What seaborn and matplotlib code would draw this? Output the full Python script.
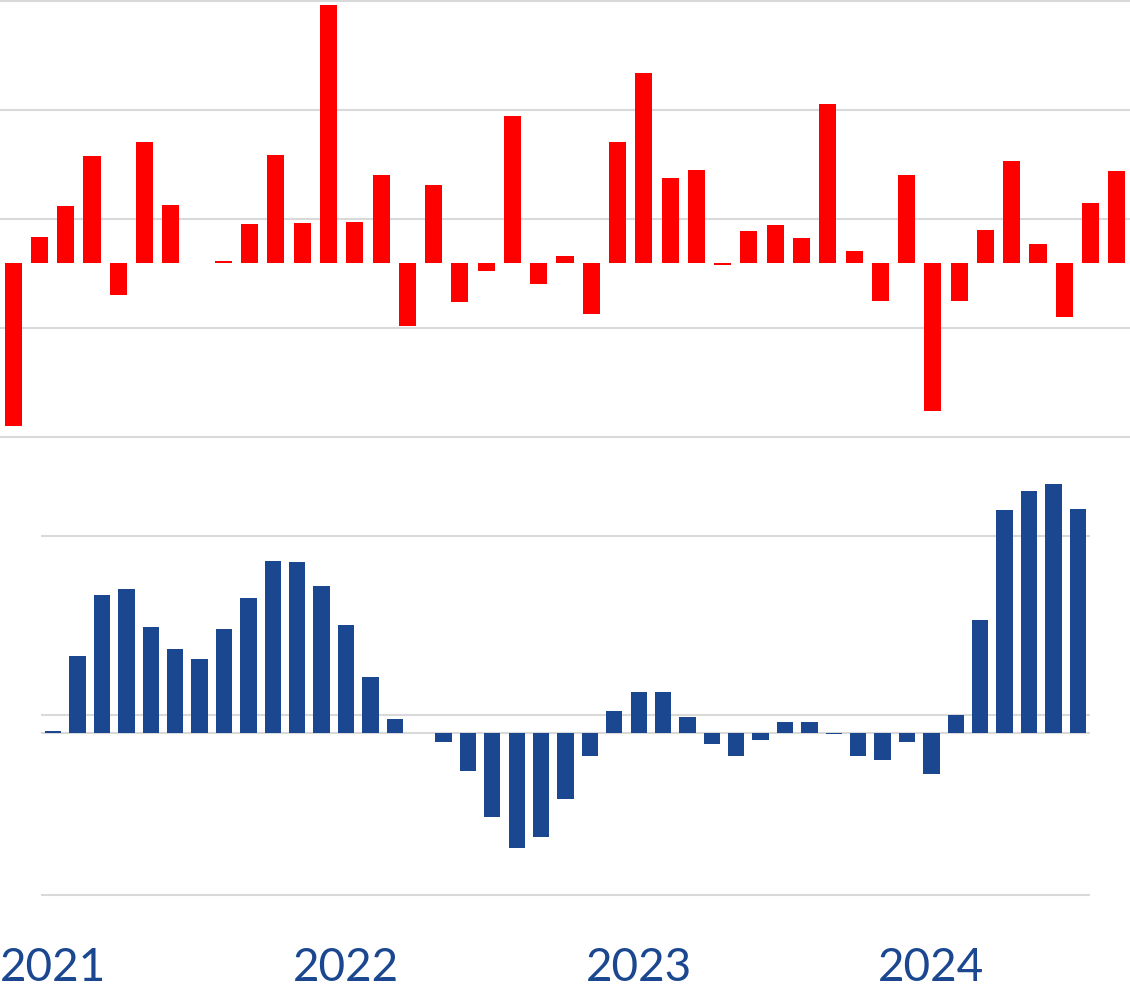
import pandas as pd
import matplotlib
matplotlib.use('Agg')
import matplotlib.pyplot as plt
import matplotlib.transforms as mtransforms
import seaborn as sns

# monthly data, Jan 2021 - Jul 2024
months = pd.date_range('2021-01-01', periods=43, freq='MS').strftime('%Y-%m').tolist()

top_values = [-1.50, 0.24, 0.52, 0.98, -0.29, 1.11, 0.53, 0.00, 0.02, 0.36, 0.99, 0.37,
              2.37, 0.38, 0.81, -0.58, 0.72, -0.36, -0.07, 1.35, -0.19, 0.06, -0.47, 1.11,
              1.74, 0.78, 0.85, -0.02, 0.29, 0.35, 0.23, 1.46, 0.11, -0.35, 0.81, -1.36,
              -0.35, 0.30, 0.94, 0.17, -0.50, 0.55, 0.84]

bottom_values = [0.01, 0.43, 0.77, 0.80, 0.59, 0.47, 0.41, 0.58, 0.75, 0.96, 0.95, 0.82,
                 0.60, 0.31, 0.08, 0.00, -0.05, -0.21, -0.47, -0.64, -0.58, -0.37, -0.13, 0.12,
                 0.23, 0.23, 0.09, -0.06, -0.13, -0.04, 0.06, 0.06, -0.005, -0.13, -0.15, -0.05,
                 -0.23, 0.10, 0.63, 1.24, 1.35, 1.39, 1.25]

year_labels = ['2021', '2022', '2023', '2024']

df = pd.DataFrame({'month': months, 'top': top_values, 'bottom': bottom_values})

sns.set_style('white')
plt.rcParams['font.family'] = ['Lato', 'DejaVu Sans']

RED = '#FF0000'
BLUE = '#1B4790'
GRID = '#D9D9D9'

fig = plt.figure(figsize=(11.3, 9.87), dpi=100)
ax1 = fig.add_axes([0.0, 547 / 987, 1.0, 440 / 987])
ax2 = fig.add_axes([41 / 1130, 87 / 987, 1049 / 1130, 460 / 987])

# top panel
sns.barplot(data=df, x='month', y='top', color=RED, saturation=1, width=0.65,
            linewidth=0, ax=ax1)
ax1.set_ylim(-1.615, 2.422)
ax1.set_yticks([-1.6, -0.6, 0.4, 1.4, 2.4])

# bottom panel
sns.barplot(data=df, x='month', y='bottom', color=BLUE, saturation=1, width=0.67,
            linewidth=0, ax=ax2)
ax2.set_ylim(-0.925, 1.638)
ax2.set_yticks([-0.9, 0.1, 1.1])
ax2.axhline(0, color=GRID, linewidth=1.5, zorder=0)

for ax in (ax1, ax2):
    ax.set_xlim(-0.5, len(months) - 0.5)
    ax.yaxis.grid(True, color=GRID, linewidth=1.5)
    ax.set_axisbelow(True)
    ax.tick_params(length=0, labelleft=False, labelbottom=False)
    ax.set_xlabel('')
    ax.set_ylabel('')
    sns.despine(ax=ax, left=True, bottom=True)

# year labels under January of each year
trans = mtransforms.blended_transform_factory(ax2.transData, fig.transFigure)
for i, year in enumerate(year_labels):
    ax2.text(i * 12, 6 / 987, year, transform=trans, ha='center', va='baseline',
             fontsize=33, color=BLUE, clip_on=False)

plt.savefig('out.png', dpi=100)
